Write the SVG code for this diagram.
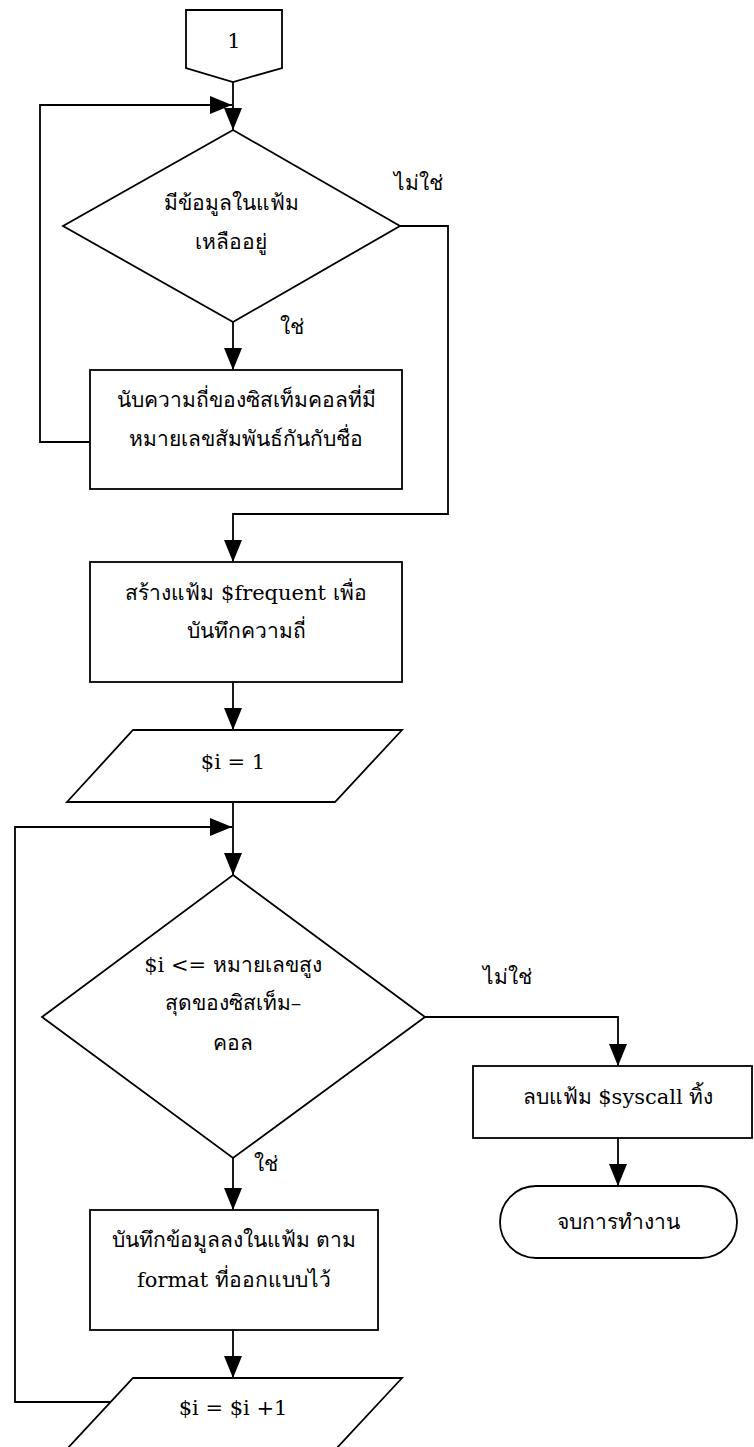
<svg xmlns="http://www.w3.org/2000/svg" width="754" height="1447" viewBox="0 0 754 1447">
  <style>
    .shape { fill: #ffffff; stroke: #000000; stroke-width: 1.8; }
    .wire { fill: none; stroke: #000000; stroke-width: 1.8; }
    text { font-family: "DejaVu Serif", "Liberation Serif", serif; font-size: 21px; fill: #000000; text-anchor: middle; }
    .lbl { text-anchor: start; }
  </style>
  <defs>
    <marker id="arrow" markerUnits="userSpaceOnUse" markerWidth="22" markerHeight="18" refX="22" refY="9" orient="auto">
      <path d="M0,0 L22,9 L0,18 z" fill="#000000"/>
    </marker>
  </defs>
  <rect width="754" height="1447" fill="#ffffff"/>

  <!-- connectors -->
  <g id="connectors">
    <path class="wire" d="M233,82 V130" marker-end="url(#arrow)"/>
    <path class="wire" d="M90,442 H40 V105 H232" marker-end="url(#arrow)"/>
    <path class="wire" d="M233,322 V370" marker-end="url(#arrow)"/>
    <path class="wire" d="M400,226 H448 V514 H233 V562" marker-end="url(#arrow)"/>
    <path class="wire" d="M233,682 V730" marker-end="url(#arrow)"/>
    <path class="wire" d="M233,802 V875" marker-end="url(#arrow)"/>
    <path class="wire" d="M111,1402 H15 V827 H232" marker-end="url(#arrow)"/>
    <path class="wire" d="M233,1158 V1210" marker-end="url(#arrow)"/>
    <path class="wire" d="M233,1330 V1378" marker-end="url(#arrow)"/>
    <path class="wire" d="M425,1017 H618 V1066" marker-end="url(#arrow)"/>
    <path class="wire" d="M618,1138 V1186" marker-end="url(#arrow)"/>
    <text class="lbl" x="394" y="190">ไม่ใช่</text>
    <text class="lbl" x="280" y="334">ใช่</text>
    <text class="lbl" x="483" y="984">ไม่ใช่</text>
    <text class="lbl" x="254" y="1171">ใช่</text>
  </g>

  <!-- off-page connector -->
  <g id="connector1">
    <path class="shape" d="M186,10 H282 V68 L233,82 L186,68 Z"/>
    <text x="234" y="48">1</text>
  </g>

  <!-- check for remaining data -->
  <g id="hasData">
    <path class="shape" d="M233,130 L400,226 L233,322 L63,226 Z"/>
    <text x="231" y="210">มีข้อมูลในแฟ้ม</text>
    <text x="231" y="249">เหลืออยู่</text>
  </g>

  <g id="countFreq">
    <rect class="shape" x="90" y="370" width="312" height="119"/>
    <text x="246" y="407">นับความถี่ของซิสเท็มคอลที่มี</text>
    <text x="246" y="446">หมายเลขสัมพันธ์กันกับชื่อ</text>
  </g>

  <g id="createFile">
    <rect class="shape" x="90" y="562" width="312" height="120"/>
    <text x="246" y="600">สร้างแฟ้ม $frequent เพื่อ</text>
    <text x="246" y="638">บันทึกความถี่</text>
  </g>

  <g id="initI">
    <path class="shape" d="M133,730 H402 L335,802 H67 Z"/>
    <text x="233" y="769">$i = 1</text>
  </g>

  <g id="checkI">
    <path class="shape" d="M233,875 L425,1017 L233,1158 L42,1017 Z"/>
    <text x="233" y="972">$i &lt;= หมายเลขสูง</text>
    <text x="233" y="1010">สุดของซิสเท็ม–</text>
    <text x="233" y="1050">คอล</text>
  </g>

  <g id="writeData">
    <rect class="shape" x="90" y="1210" width="288" height="120"/>
    <text x="234" y="1247">บันทึกข้อมูลลงในแฟ้ม ตาม</text>
    <text x="234" y="1287">format ที่ออกแบบไว้</text>
  </g>

  <g id="incI">
    <path class="shape" d="M133,1378 H402 L335,1450 H66 Z"/>
    <text x="233" y="1415">$i = $i +1</text>
  </g>

  <g id="deleteFile">
    <rect class="shape" x="473" y="1066" width="279" height="72"/>
    <text x="618" y="1104">ลบแฟ้ม $syscall ทิ้ง</text>
  </g>

  <g id="end">
    <rect class="shape" x="500" y="1186" width="237" height="72" rx="36" ry="36"/>
    <text x="618" y="1229">จบการทำงาน</text>
  </g>
</svg>
